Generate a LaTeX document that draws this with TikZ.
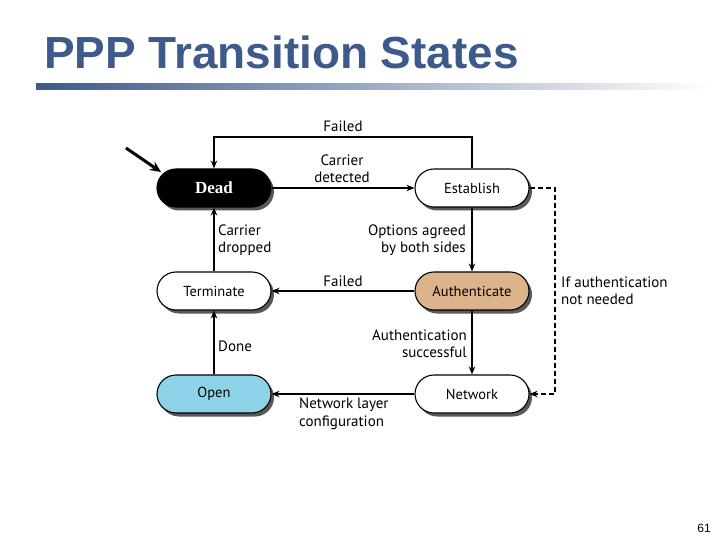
\documentclass[tikz,border=0pt]{standalone}
\usepackage{fontspec}
\setmainfont{PT Sans}
\newfontfamily\titlefont{Liberation Sans}
\newfontfamily\deadfont{Liberation Serif}
\usetikzlibrary{shapes.misc,shadows,arrows.meta}
\definecolor{titleblue}{HTML}{3D5A8A}
\definecolor{authtan}{HTML}{DDB38C}
\definecolor{openblue}{HTML}{8DD2E6}
\tikzset{
  state/.style={rounded rectangle, draw=black, line width=1.1pt, minimum width=114pt, minimum height=38pt,
    inner sep=0pt, font=\fontsize{14.5}{15}\selectfont,
    drop shadow={shadow xshift=3pt, shadow yshift=-3.5pt, fill=black!65, opacity=1}},
  conn/.style={line width=1.1pt, -{Stealth[length=8pt,width=6.5pt]}},
  lbl/.style={font=\fontsize{15}{17.5}\selectfont, inner sep=0pt, align=center}
}
\begin{document}
\begin{tikzpicture}[x=1pt,y=-1pt]
\useasboundingbox (0,0) rectangle (720,540);
% title
\node[anchor=base west, inner sep=0pt, text=titleblue, font=\titlefont\bfseries\fontsize{45}{50}\selectfont, xscale=1.02] (title) at (44,69) {PPP Transition States};
\shade[left color=titleblue, right color=white] (36,84) rectangle (712,90);
% states
\node[state, fill=black, text=white, font=\deadfont\bfseries\fontsize{17}{18}\selectfont] (dead) at (214,188) {Dead};
\node[state, fill=white] (est) at (472,188) {Establish};
\node[state, fill=white] (term) at (214,291) {Terminate};
\node[state, fill=authtan] (auth) at (472,291) {Authenticate};
\node[state, fill=openblue] (open) at (214,394) {Open};
\node[state, fill=white] (net) at (472,394) {Network};
% connectors
\draw[conn] (est.north) -- (472,137) -- (214,137) -- (dead.north);
\node[lbl] (lfailed1) at (343,126) {Failed};
\draw[conn] (dead.east) -- (est.west);
\node[lbl] (lcarrier) at (342,169) {Carrier\\detected};
\draw[conn] (est.south) -- (auth.north);
\node[lbl, align=right, anchor=east] (lopt) at (466,240) {Options agreed\\by both sides};
\draw[conn] (auth.west) -- (term.east);
\node[lbl] (lfailed2) at (343,281) {Failed};
\draw[conn] (term.north) -- (dead.south);
\node[lbl, align=left, anchor=west] (ldrop) at (218,240) {Carrier\\dropped};
\draw[conn] (open.north) -- (term.south);
\node[lbl, anchor=west] (ldone) at (218,346) {Done};
\draw[conn] (auth.south) -- (net.north);
\node[lbl, align=right, anchor=east] (lauth) at (467,344) {Authentication\\successful};
\draw[conn] (net.west) -- (open.east);
\node[lbl, align=left, anchor=west] (lnet) at (299,414) {Network layer\\configuration};
\draw[conn, dashed, dash pattern=on 5pt off 3pt] (est.east) -- (555,188) -- (555,394) -- (net.east);
\node[lbl, align=left, anchor=west] (lifauth) at (561,291) {If authentication\\not needed};
% start arrow
\coordinate (startpt) at (126,148);
\draw[line width=3pt, -{Stealth[length=11pt,width=10pt]}] (startpt) -- (161,172);
% page number
\node[font=\titlefont\fontsize{12}{14}\selectfont, inner sep=0pt] (pnum) at (704,528) {61};
\end{tikzpicture}
\end{document}
